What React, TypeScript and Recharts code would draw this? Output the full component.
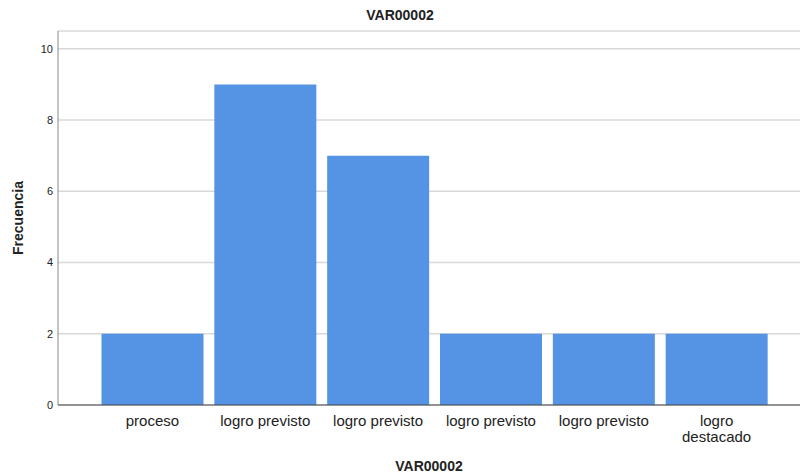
import React from 'react';
import { BarChart, Bar, XAxis, YAxis, CartesianGrid, Label } from 'recharts';

// categories and frequencies
const categories = ['proceso', 'logro previsto', 'logro previsto', 'logro previsto', 'logro previsto', 'logro destacado'];
const frequencies = [2, 9, 7, 2, 2, 2];
const yTicks = [0, 2, 4, 6, 8, 10];

const data = categories.map((name, i) => ({ idx: i, name, value: frequencies[i] }));

const font = '"Liberation Sans", Arial, sans-serif';

// long labels wrap onto two lines, like SPSS does
function wrapLabel(label: string): string[] {
  if (label.length <= 14) return [label];
  const cut = label.indexOf(' ');
  return cut > 0 ? [label.slice(0, cut), label.slice(cut + 1)] : [label];
}

function CategoryTick(props: any) {
  const { x, y, payload } = props;
  const lines = wrapLabel(categories[payload.value]);
  return (
    <text x={x} y={y} textAnchor="middle" fontSize={15} fontFamily={font} fill="#222">
      {lines.map((ln, i) => (
        <tspan key={i} x={x} dy={i === 0 ? 11 : 16}>
          {ln}
        </tspan>
      ))}
    </text>
  );
}

export default function App() {
  return (
    <div style={{ position: 'absolute', left: 0, top: 0, width: 800, height: 475, background: '#fff' }}>
      <div
        style={{
          position: 'absolute',
          left: 0,
          top: 7,
          width: 800,
          textAlign: 'center',
          fontFamily: font,
          fontWeight: 'bold',
          fontSize: 14,
          color: '#222',
        }}
      >
        VAR00002
      </div>
      <BarChart
        width={800}
        height={475}
        data={data}
        margin={{ top: 31, right: 0, bottom: 0, left: 0 }}
        barCategoryGap={5.5}
      >
        <CartesianGrid horizontal vertical={false} stroke="#d9d9d9" strokeWidth={1.5} />
        <XAxis
          dataKey="idx"
          type="category"
          height={70}
          padding={{ left: 38, right: 27 }}
          tickLine={false}
          tickSize={0}
          tickMargin={10}
          stroke="#444"
          tick={<CategoryTick />}
          interval={0}
        >
          <Label
            value="VAR00002"
            position="insideBottom"
            offset={4}
            style={{ fontFamily: font, fontWeight: 'bold', fontSize: 14, fill: '#222' }}
          />
        </XAxis>
        <YAxis
          width={58}
          domain={[0, 10.5]}
          ticks={yTicks}
          tickLine={false}
          tickSize={0}
          tickMargin={5}
          stroke="#888"
          tick={{ fontSize: 11, fontFamily: font, fill: '#222', stroke: 'none' }}
        >
          <Label
            value="Frecuencia"
            angle={-90}
            position="center"
            dx={-11}
            style={{ fontFamily: font, fontWeight: 'bold', fontSize: 14, fill: '#222', textAnchor: 'middle' }}
          />
        </YAxis>
        <Bar dataKey="value" fill="#5594e4" isAnimationActive={false} />
      </BarChart>
    </div>
  );
}
